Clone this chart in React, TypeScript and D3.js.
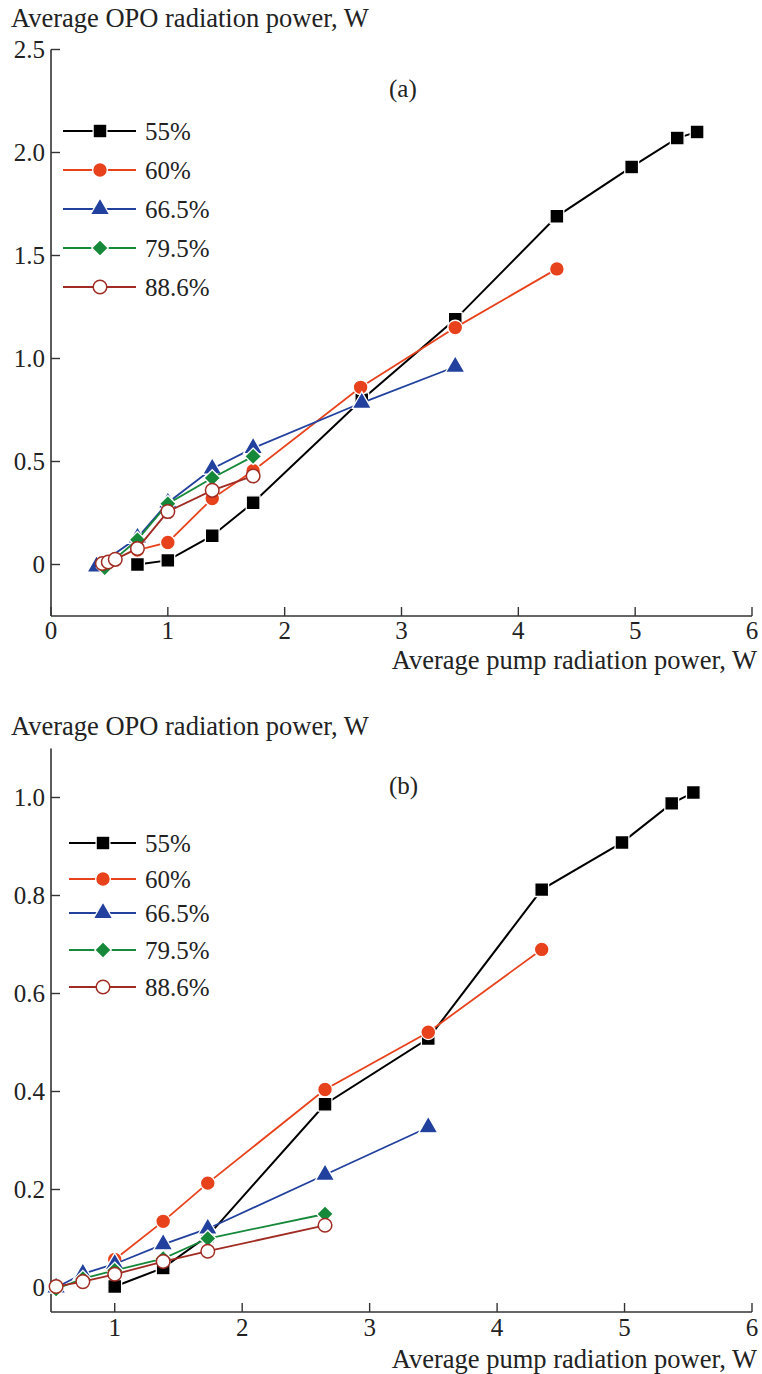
import React from "react";
import * as d3 from "d3";

// ---------- data ----------
const seriesNames = ["55%", "60%", "66.5%", "79.5%", "88.6%"];

// panel (a)
const a55x = [0.74, 1.0, 1.38, 1.73, 2.66, 3.46, 4.33, 4.97, 5.36, 5.53];
const a55y = [0, 0.02, 0.14, 0.3, 0.8, 1.19, 1.69, 1.93, 2.07, 2.1];
const a60x = [0.74, 1.0, 1.38, 1.73, 2.65, 3.46, 4.33];
const a60y = [0.07, 0.107, 0.32, 0.455, 0.86, 1.15, 1.435];
const a66x = [0.39, 0.74, 1.0, 1.38, 1.73, 2.66, 3.46];
const a66y = [-0.01, 0.13, 0.3, 0.465, 0.565, 0.785, 0.96];
const a79x = [0.46, 0.74, 1.0, 1.38, 1.73];
const a79y = [-0.015, 0.12, 0.295, 0.42, 0.525];
const a88x = [0.44, 0.49, 0.55, 0.74, 1.0, 1.38, 1.73];
const a88y = [0.005, 0.012, 0.025, 0.078, 0.257, 0.36, 0.43];

// panel (b)
const b55x = [1.0, 1.38, 1.73, 2.65, 3.46, 4.35, 4.98, 5.37, 5.54];
const b55y = [0.002, 0.04, 0.105, 0.374, 0.508, 0.812, 0.908, 0.988, 1.01];
const b60x = [1.0, 1.38, 1.73, 2.65, 3.46, 4.35];
const b60y = [0.057, 0.135, 0.213, 0.404, 0.521, 0.69];
const b66x = [0.54, 0.75, 1.0, 1.38, 1.73, 2.65, 3.46];
const b66y = [0, 0.028, 0.048, 0.088, 0.12, 0.23, 0.327];
const b79x = [0.54, 0.75, 1.0, 1.38, 1.73, 2.65];
const b79y = [-0.003, 0.018, 0.035, 0.059, 0.1, 0.15];
const b88x = [0.54, 0.75, 1.0, 1.38, 1.73, 2.65];
const b88y = [0.002, 0.012, 0.027, 0.053, 0.074, 0.127];

const aXTicks = [0, 1, 2, 3, 4, 5, 6];
const aYTicks = [0, 0.5, 1.0, 1.5, 2.0, 2.5];
const aYTickLabels = ["0", "0.5", "1.0", "1.5", "2.0", "2.5"];
const bXTicks = [1, 2, 3, 4, 5, 6];
const bYTicks = [0, 0.2, 0.4, 0.6, 0.8, 1.0];
const bYTickLabels = ["0", "0.2", "0.4", "0.6", "0.8", "1.0"];

const yTitle = "Average OPO radiation power, W";
const xTitle = "Average pump radiation power, W";

// ---------- styles ----------
const colors = ["#000000", "#e8421c", "#22409e", "#16883a", "#a02b22"];
const shapes = ["square", "circle", "triangle", "diamond", "open"];
const FONT = "Liberation Serif";
const AXIS = "#333";
const TICK_FS = 25;
const TITLE_FS = 26.5;

function symbolPath(shape: string): string {
  const gen = d3.symbol();
  if (shape === "square") return gen.type(d3.symbolSquare).size(190)()!;
  if (shape === "circle") return gen.type(d3.symbolCircle).size(170)()!;
  if (shape === "triangle") return gen.type(d3.symbolTriangle).size(160)()!;
  if (shape === "diamond") return gen.type(d3.symbolDiamond2).size(175)()!;
  return gen.type(d3.symbolCircle).size(145)()!;
}

function Marker({ shape, color, x, y }: { shape: string; color: string; x: number; y: number }) {
  const open = shape === "open";
  return (
    <path
      d={symbolPath(shape)}
      transform={`translate(${x},${y})`}
      fill={open ? "#fff" : color}
      stroke={open ? color : "#fff"}
      strokeWidth={open ? 1.5 : 1.3}
    />
  );
}

type PanelProps = {
  xs: number[][];
  ys: number[][];
  xDomain: [number, number];
  yDomain: [number, number];
  xRange: [number, number];
  yRange: [number, number];
  xTicks: number[];
  yTicks: number[];
  yTickLabels: string[];
  titleY: number;
  xTitleY: number;
  xTickLabelY: number;
  tag: string;
  tagX: number;
  tagY: number;
  legendRows: number[];
  legendX1: number;
  legendMarkerX: number;
};

function Panel(p: PanelProps) {
  const x = d3.scaleLinear().domain(p.xDomain).range(p.xRange);
  const y = d3.scaleLinear().domain(p.yDomain).range(p.yRange);
  const line = d3
    .line<[number, number]>()
    .x((d) => x(d[0]))
    .y((d) => y(d[1]));
  const x0 = p.xRange[0];
  const y0 = p.yRange[0];
  const tickLen = 9;
  return (
    <g>
      <text x={11} y={p.titleY} fontFamily={FONT} fontSize={TITLE_FS} fill="#222">
        {yTitle}
      </text>
      {/* axes */}
      <line x1={x0} x2={x0} y1={p.yRange[1]} y2={y0} stroke={AXIS} strokeWidth={1.6} />
      <line x1={x0} x2={p.xRange[1]} y1={y0} y2={y0} stroke={AXIS} strokeWidth={1.6} />
      {p.yTicks.map((t, i) => (
        <g key={"yt" + i}>
          <line x1={x0} x2={x0 + tickLen} y1={y(t)} y2={y(t)} stroke={AXIS} strokeWidth={1.4} />
          <text
            x={x0 - 6}
            y={y(t) + 8.5}
            textAnchor="end"
            fontFamily={FONT}
            fontSize={TICK_FS}
            fill="#222"
          >
            {p.yTickLabels[i]}
          </text>
        </g>
      ))}
      {p.xTicks.map((t, i) => (
        <g key={"xt" + i}>
          <line x1={x(t)} x2={x(t)} y1={y0} y2={y0 - tickLen} stroke={AXIS} strokeWidth={1.4} />
          <text x={x(t)} y={p.xTickLabelY} textAnchor="middle" fontFamily={FONT} fontSize={TICK_FS} fill="#222">
            {t}
          </text>
        </g>
      ))}
      <text x={757} y={p.xTitleY} textAnchor="end" fontFamily={FONT} fontSize={TITLE_FS} fill="#222">
        {xTitle}
      </text>
      <text x={p.tagX} y={p.tagY} fontFamily={FONT} fontSize={TICK_FS} fill="#222">
        {p.tag}
      </text>
      {/* series */}
      {p.xs.map((xs, si) => {
        const pts: [number, number][] = xs.map((v, j) => [v, p.ys[si][j]]);
        return (
          <g key={"s" + si}>
            <path d={line(pts)!} fill="none" stroke={colors[si]} strokeWidth={si === 0 ? 2 : 1.8} />
            {pts.map((d, j) => (
              <Marker key={j} shape={shapes[si]} color={colors[si]} x={x(d[0])} y={y(d[1])} />
            ))}
          </g>
        );
      })}
      {/* legend */}
      {seriesNames.map((n, i) => (
        <g key={"lg" + i}>
          <line
            x1={p.legendX1}
            x2={136}
            y1={p.legendRows[i]}
            y2={p.legendRows[i]}
            stroke={colors[i]}
            strokeWidth={i === 0 ? 2 : 1.8}
          />
          <Marker shape={shapes[i]} color={colors[i]} x={p.legendMarkerX} y={p.legendRows[i]} />
          <text x={145} y={p.legendRows[i] + 8.5} fontFamily={FONT} fontSize={TICK_FS} fill="#222">
            {n}
          </text>
        </g>
      ))}
    </g>
  );
}

export default function App() {
  return (
    <svg
      width={762}
      height={1374}
      style={{ position: "absolute", left: 0, top: 0, background: "#fff" }}
    >
      <rect width={762} height={1374} fill="#fff" />
      <Panel
        xs={[a55x, a60x, a66x, a79x, a88x]}
        ys={[a55y, a60y, a66y, a79y, a88y]}
        xDomain={[0, 6]}
        yDomain={[-0.25, 2.5]}
        xRange={[51, 752]}
        yRange={[616, 49.5]}
        xTicks={aXTicks}
        yTicks={aYTicks}
        yTickLabels={aYTickLabels}
        titleY={27}
        xTitleY={669}
        xTickLabelY={639}
        tag="(a)"
        tagX={389}
        tagY={97}
        legendRows={[131, 170, 209, 248, 287]}
        legendX1={63}
        legendMarkerX={100}
      />
      <Panel
        xs={[b55x, b60x, b66x, b79x, b88x]}
        ys={[b55y, b60y, b66y, b79y, b88y]}
        xDomain={[0.5, 6]}
        yDomain={[-0.05, 1.1]}
        xRange={[51, 752]}
        yRange={[1312, 748.5]}
        xTicks={bXTicks}
        yTicks={bYTicks}
        yTickLabels={bYTickLabels}
        titleY={735}
        xTitleY={1368}
        xTickLabelY={1336}
        tag="(b)"
        tagX={389}
        tagY={794}
        legendRows={[843, 879, 913, 950, 987]}
        legendX1={69}
        legendMarkerX={103}
      />
    </svg>
  );
}
